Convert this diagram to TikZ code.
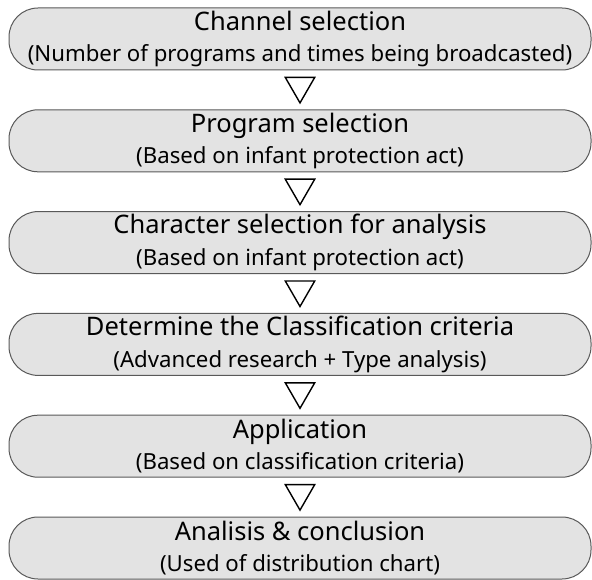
\documentclass[tikz,border=0pt]{standalone}
\usepackage{fontspec}
\setmainfont{Noto Sans}
\usetikzlibrary{shapes.geometric, calc}

\tikzset{
  stepbox/.style={draw=black!65, line width=1pt, fill=black!11,
    rounded corners=29pt, minimum width=582pt, minimum height=62pt,
    inner sep=0pt, align=center},
  downtri/.style={draw=black, line width=1.4pt, fill=white,
    regular polygon, regular polygon sides=3, shape border rotate=180,
    minimum size=34pt, inner sep=0pt, outer sep=0pt},
  headtext/.style={font=\fontsize{25.5}{28}\selectfont},
}
\newcommand{\subline}[1]{\\[3.5pt]{\fontsize{22.2}{28}\selectfont #1}}

\begin{document}
\begin{tikzpicture}[x=1pt, y=-1pt]
  % Fix the page size
  \useasboundingbox (0,0) rectangle (592,580);

  % Define the box centres
  \coordinate (P1) at (300,39);
  \coordinate (P2) at (300,140.8);
  \coordinate (P3) at (300,242.6);
  \coordinate (P4) at (300,344.4);
  \coordinate (P5) at (300,446.2);
  \coordinate (P6) at (300,548);

  % Draw the step boxes
  \node[stepbox, headtext] (channel) at (P1)
    {Channel selection\subline{(Number of programs and times being broadcasted)}};
  \node[stepbox, headtext] (program) at (P2)
    {Program selection\subline{(Based on infant protection act)}};
  \node[stepbox, headtext] (character) at (P3)
    {Character selection for analysis\subline{(Based on infant protection act)}};
  \node[stepbox, headtext] (criteria) at (P4)
    {Determine the Classification criteria\subline{(Advanced research + Type analysis)}};
  \node[stepbox, headtext] (application) at (P5)
    {Application\subline{(Based on classification criteria)}};
  \node[stepbox, headtext] (conclusion) at (P6)
    {Analisis \& conclusion\subline{(Used of distribution chart)}};

  % Draw the triangles between the boxes
  \node[downtri, yshift=4pt] (t1) at ($(channel.south)!0.5!(program.north)$) {};
  \node[downtri, yshift=4pt] (t2) at ($(program.south)!0.5!(character.north)$) {};
  \node[downtri, yshift=4pt] (t3) at ($(character.south)!0.5!(criteria.north)$) {};
  \node[downtri, yshift=4pt] (t4) at ($(criteria.south)!0.5!(application.north)$) {};
  \node[downtri, yshift=4pt] (t5) at ($(application.south)!0.5!(conclusion.north)$) {};
\end{tikzpicture}
\end{document}
